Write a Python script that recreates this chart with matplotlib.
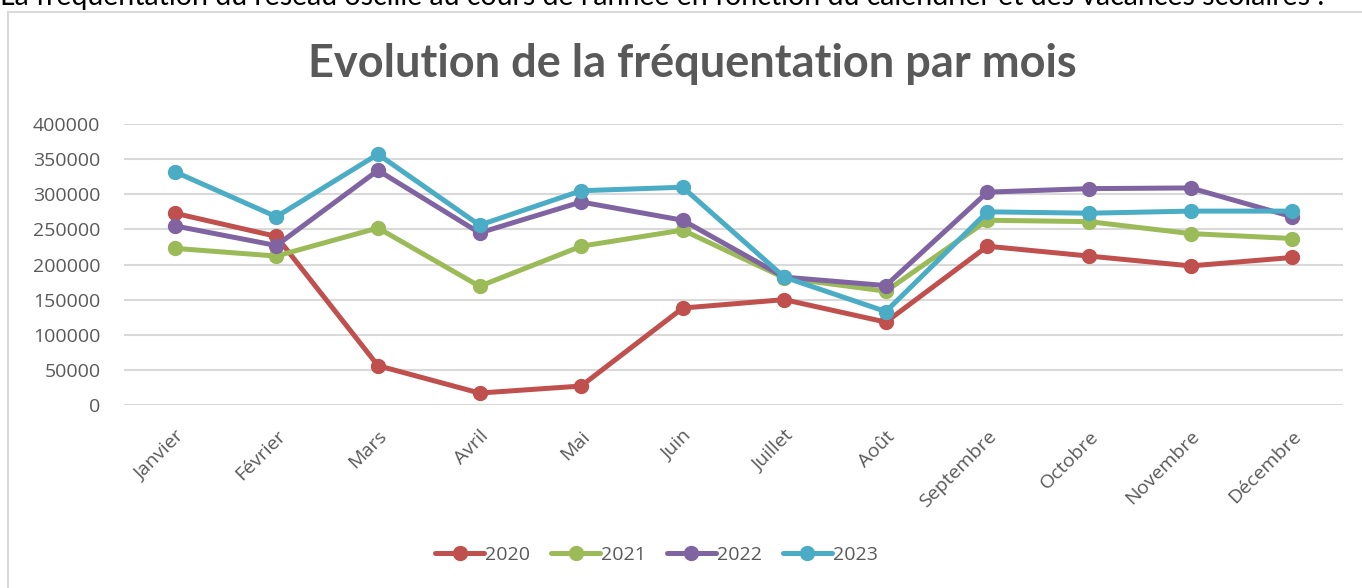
import matplotlib.pyplot as plt
from matplotlib.patches import Rectangle

# données
mois = ['Janvier', 'Février', 'Mars', 'Avril', 'Mai', 'Juin', 'Juillet',
        'Août', 'Septembre', 'Octobre', 'Novembre', 'Décembre']
v2020 = [273000, 240000, 56000, 17000, 27000, 138000, 150000, 118000, 226000, 212000, 198000, 210000]
v2021 = [223000, 212000, 252000, 169000, 226000, 249000, 181000, 162000, 263000, 261000, 244000, 237000]
v2022 = [255000, 227000, 334000, 245000, 289000, 263000, 182000, 170000, 303000, 308000, 309000, 268000]
v2023 = [332000, 268000, 357000, 256000, 305000, 310000, 182000, 133000, 275000, 273000, 276000, 276000]
annees = ['2020', '2021', '2022', '2023']
couleurs = ['#C0504D', '#9BBB59', '#8064A2', '#4BACC6']
yticks = [0, 50000, 100000, 150000, 200000, 250000, 300000, 350000, 400000]

plt.rcParams['font.family'] = ['Lato', 'DejaVu Sans']
gris = '#595959'
police_ticks = ['Open Sans', 'DejaVu Sans']

fig = plt.figure(figsize=(13.62, 5.88), dpi=100)

# cadre du graphique (style Excel)
fig.patches.append(Rectangle((8 / 1362, -0.05), 1.1, 1 - 12 / 588 + 0.05,
                             transform=fig.transFigure, fill=False,
                             edgecolor='#d9d9d9', linewidth=1.5))

# phrase du document coupée en haut
fig.text(0.0, 1 - 5 / 588, "La fréquentation du réseau oscille au cours de l'année "
         "en fonction du calendrier et des vacances scolaires :",
         fontsize=20.5, color='black', va='baseline', ha='left')

ax = fig.add_axes([124 / 1362, 1 - 405 / 588, (1343 - 124) / 1362, 281 / 588])
x = list(range(len(mois)))
for serie, nom, c in zip([v2020, v2021, v2022, v2023], annees, couleurs):
    ax.plot(x, serie, color=c, linewidth=3.6, marker='o', markersize=10,
            label=nom, clip_on=False, solid_capstyle='round')

ax.set_xlim(-0.5, 11.5)
ax.set_ylim(0, 400000)
ax.set_yticks(yticks)
ax.set_yticklabels([str(t) for t in yticks], family=police_ticks)
ax.grid(axis='y', color='#d9d9d9', linewidth=1.5)
ax.set_axisbelow(True)
for s in ax.spines.values():
    s.set_visible(False)
ax.tick_params(axis='y', length=0, pad=17, labelsize=14, labelcolor=gris)
ax.set_xticks(x)
ax.set_xticklabels(mois, rotation=45, ha='right', rotation_mode='anchor', family=police_ticks)
ax.tick_params(axis='x', length=0, pad=16, labelsize=14, labelcolor=gris)

fig.text(0.508, 1 - 64 / 588, 'Evolution de la fréquentation par mois',
         fontsize=32.5, fontweight='bold', color=gris, ha='center', va='center')

leg = ax.legend(loc='center', bbox_to_anchor=(0.482, 1 - 555 / 588), bbox_transform=fig.transFigure,
                ncol=4, frameon=False, fontsize=13.5, handlelength=2.5, handletextpad=0.05,
                columnspacing=1.1, prop={'family': police_ticks, 'size': 14})
for t in leg.get_texts():
    t.set_color(gris)

fig.savefig('out.png', dpi=100)
